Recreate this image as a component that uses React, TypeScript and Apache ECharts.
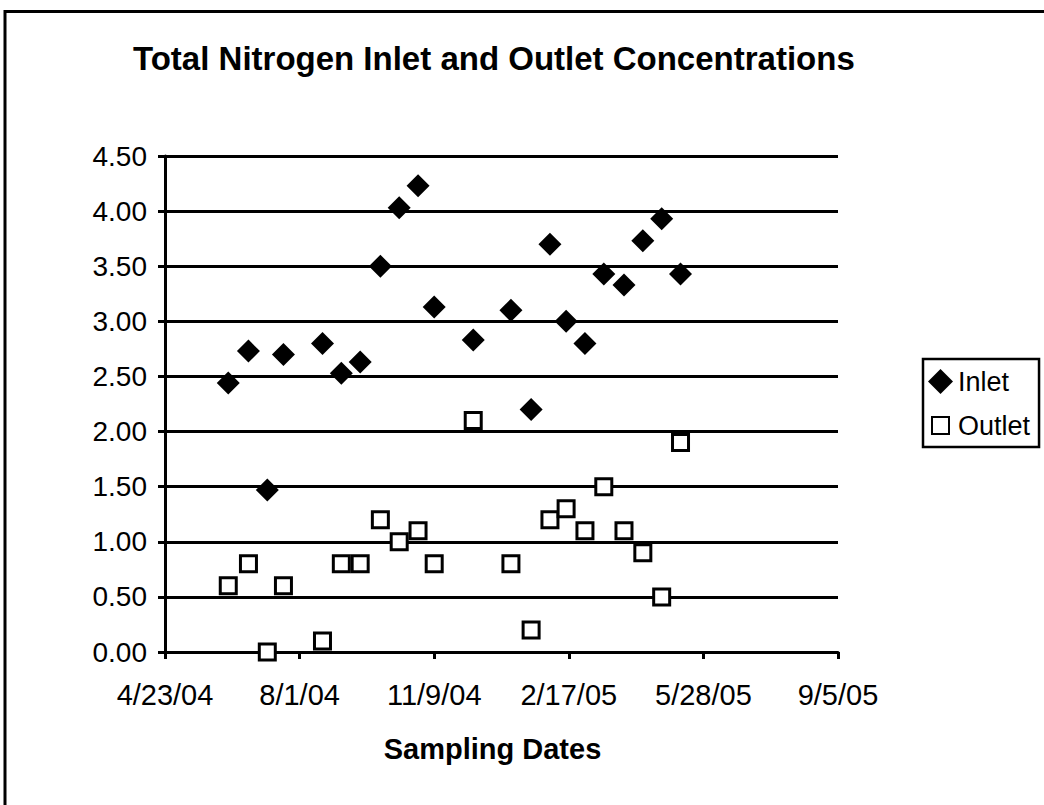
import React, { useEffect, useRef } from "react";
import * as echarts from "echarts";

const chartTitle = "Total Nitrogen Inlet and Outlet Concentrations";
const xAxisTitle = "Sampling Dates";
const seriesNames = ["Inlet", "Outlet"];

const sampleDates = [
  "2004-06-09", "2004-06-24", "2004-07-08", "2004-07-20", "2004-08-18",
  "2004-09-01", "2004-09-15", "2004-09-30", "2004-10-14", "2004-10-28",
  "2004-11-09", "2004-12-08", "2005-01-05", "2005-01-20", "2005-02-03",
  "2005-02-15", "2005-03-01", "2005-03-15", "2005-03-30", "2005-04-13",
  "2005-04-27", "2005-05-11",
];

const inletValues = [
  2.44, 2.73, 1.47, 2.7, 2.8, 2.53, 2.63, 3.5, 4.03, 4.23, 3.13, 2.83,
  3.1, 2.2, 3.7, 3.0, 2.8, 3.43, 3.33, 3.73, 3.93, 3.43,
];

const outletValues = [
  0.6, 0.8, 0.0, 0.6, 0.1, 0.8, 0.8, 1.2, 1.0, 1.1, 0.8, 2.1,
  0.8, 0.2, 1.2, 1.3, 1.1, 1.5, 1.1, 0.9, 0.5, 1.9,
];

const xAxisStartDate = "2004-04-23";
const xAxisEndDate = "2005-09-05";
const xTickDays = 100;
const yMin = 0;
const yMax = 4.5;
const yStep = 0.5;

const EXCEL_EPOCH = Date.UTC(1899, 11, 30);
const DAY = 86400000;

function toSerial(s: string): number {
  const [y, m, d] = s.split("-").map(Number);
  return Math.round((Date.UTC(y, m - 1, d) - EXCEL_EPOCH) / DAY);
}

function serialLabel(v: number): string {
  const dt = new Date(EXCEL_EPOCH + Math.round(v) * DAY);
  return `${dt.getUTCMonth() + 1}/${dt.getUTCDate()}/${String(dt.getUTCFullYear()).slice(2)}`;
}

const FONT = "'Liberation Sans', Arial, Helvetica, sans-serif";

export default function App() {
  const ref = useRef<HTMLDivElement>(null);

  useEffect(() => {
    if (!ref.current) return;
    const chart = echarts.init(ref.current, undefined, { renderer: "svg" });
    const inletData = sampleDates.map((d, i) => [toSerial(d), inletValues[i]]);
    const outletData = sampleDates.map((d, i) => [toSerial(d), outletValues[i]]);

    chart.setOption({
      animation: false,
      backgroundColor: "#fff",
      title: {
        text: chartTitle,
        left: 133,
        top: 42,
        padding: 0,
        textStyle: { fontFamily: FONT, fontSize: 33, fontWeight: "bold", color: "#000" },
      },
      graphic: [
        {
          type: "rect",
          shape: { x: 5, y: 11.5, width: 1200, height: 1000 },
          style: { fill: "none", stroke: "#000", lineWidth: 3 },
          silent: true,
          z: 100,
        },
      ],
      legend: {
        orient: "vertical",
        left: 923,
        top: 359,
        padding: [9, 9, 8, 4],
        itemWidth: 25,
        itemHeight: 25,
        itemGap: 17,
        borderColor: "#000",
        borderWidth: 2.5,
        backgroundColor: "#fff",
        textStyle: { fontFamily: FONT, fontSize: 27, color: "#000", padding: [0, 0, 0, 0] },
        data: [
          { name: seriesNames[0], icon: "diamond", itemStyle: { opacity: 1 } },
          { name: seriesNames[1], icon: "path://M0,0 M4,4 L21,4 L21,21 L4,21 Z M25,25", itemStyle: { opacity: 1 } },
        ],
      },
      grid: { left: 165, top: 156, width: 673, height: 496, containLabel: false },
      xAxis: {
        type: "value",
        min: toSerial(xAxisStartDate),
        max: toSerial(xAxisEndDate),
        interval: xTickDays,
        name: xAxisTitle,
        nameLocation: "middle",
        nameGap: 82,
        nameTextStyle: {
          fontFamily: FONT, fontSize: 29, fontWeight: "bold", color: "#000",
          padding: [0, 18, 0, 0],
        },
        axisLine: { show: true, onZero: false, lineStyle: { color: "#000", width: 3 } },
        axisTick: { show: true, inside: false, length: 7, lineStyle: { color: "#000", width: 3 } },
        axisLabel: {
          fontFamily: FONT, fontSize: 29, color: "#000", margin: 28,
          formatter: (v: number) => serialLabel(v),
        },
        splitLine: { show: false },
      },
      yAxis: {
        type: "value",
        min: yMin,
        max: yMax,
        interval: yStep,
        axisLine: { show: true, lineStyle: { color: "#000", width: 3 } },
        axisTick: { show: true, inside: false, length: 7, lineStyle: { color: "#000", width: 3 } },
        axisLabel: {
          fontFamily: FONT, fontSize: 28, color: "#000", margin: 18,
          formatter: (v: number) => v.toFixed(2),
        },
        splitLine: { show: true, lineStyle: { color: "#000", width: 3 } },
      },
      series: [
        {
          name: seriesNames[0],
          type: "scatter",
          symbol: "diamond",
          symbolSize: 23,
          itemStyle: { color: "#000", opacity: 1 },
          data: inletData,
        },
        {
          name: seriesNames[1],
          type: "scatter",
          symbol: "rect",
          symbolSize: 16,
          itemStyle: { color: "#fff", borderColor: "#000", borderWidth: 3, opacity: 1 },
          data: outletData,
        },
      ],
    });

    return () => chart.dispose();
  }, []);

  return (
    <div
      ref={ref}
      style={{ position: "absolute", left: 0, top: 0, width: 1044, height: 805, background: "#fff" }}
    />
  );
}
